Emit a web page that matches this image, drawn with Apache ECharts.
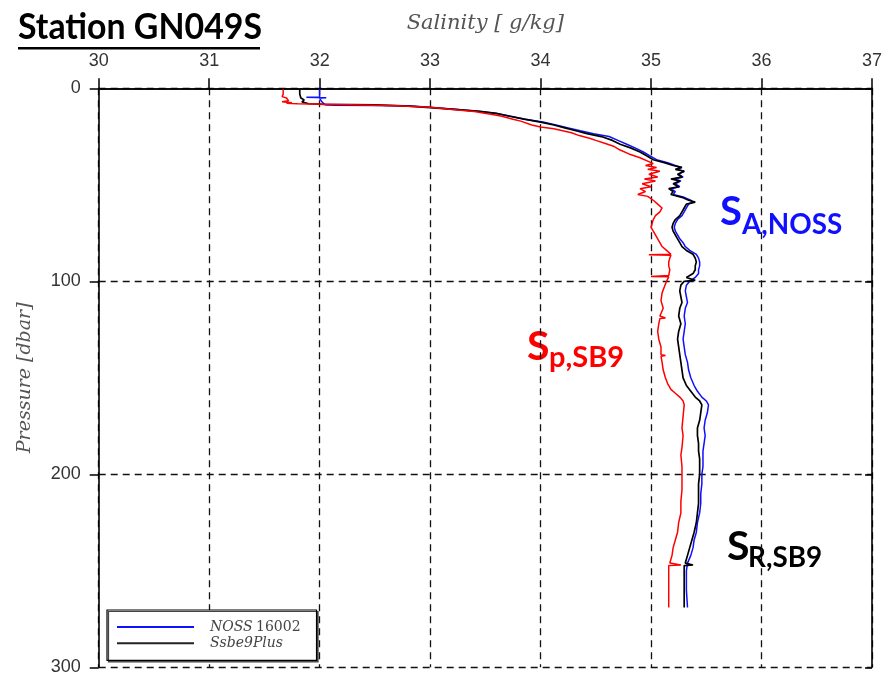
<!DOCTYPE html>
<html>
<head>
<meta charset="utf-8">
<script src="https://cdn.jsdelivr.net/npm/echarts@6/dist/echarts.min.js"></script>
<style>
html,body{margin:0;padding:0;background:#fff;}
#chart{width:885px;height:677px;}
</style>
</head>
<body>
<div id="chart"></div>
<script>
// ---- tick values ----
var salinityTicks = [30, 31, 32, 33, 34, 35, 36, 37];
var pressureTicks = [0, 100, 200, 300];

// ---- Sp,SB9 (red) ----
var redPressure = [0.5,3,4.3,5,6.5,7,7.5,7.8,8,8.3,9,9.8,11,12,13.5,14.5,16,17,19,20,21,22,23,24.5,26,27,28.5,30,32,34,36,38,39,40,41,42,43,44.5,46,47,48,49.5,51,52,53.5,55,56,58,60,62,64,66,68,70,72,74,76,78,80,82,84,86,86.3,86.5,88,90,92,94,97,97.5,97.7,100,103,106,110,114,118,119,119.3,122,126,130,134,138,138.5,138.8,142,146,150,153,156,158,160,162,164,170,176,180,186,190,196,202,208,214,220,225,230,234,238,242,246,247,247.2,250,260,269];
var redSalinity = [31.67,31.67,31.66,31.70,31.72,31.66,31.75,31.70,31.80,32.05,32.70,33.00,33.20,33.40,33.55,33.65,33.75,33.82,33.92,34.00,34.12,34.20,34.28,34.35,34.45,34.50,34.58,34.66,34.72,34.80,34.90,34.98,35.02,34.95,35.05,34.97,35.08,34.98,35.06,34.94,35.04,34.92,35.00,34.90,34.95,34.88,34.97,35.02,35.06,35.10,35.08,35.04,35.02,35.01,35.00,35.02,35.04,35.06,35.08,35.10,35.14,35.18,34.98,35.18,35.17,35.16,35.16,35.17,35.16,35.00,35.16,35.14,35.12,35.10,35.09,35.11,35.08,35.13,35.08,35.07,35.06,35.07,35.09,35.09,35.13,35.09,35.10,35.11,35.13,35.15,35.18,35.22,35.26,35.29,35.30,35.29,35.28,35.29,35.28,35.27,35.28,35.28,35.28,35.27,35.27,35.25,35.24,35.22,35.20,35.19,35.17,35.27,35.16,35.16,35.16,35.16];

// ---- SR,SB9 / Ssbe9Plus (black) ----
var blackPressure = [0.5,3,5,6,7,8,8.3,8.6,9.2,10,11,12,13,14.5,16,17.5,19,20.5,22,23.5,25,27,29,31,33,35,37,38.5,40,41,42,43,44.5,46,47,48,49.5,51,52,53.5,55,56.5,58,59,60,62,64,66,68,70,72,74,76,78,80,82,84,86,88,90,92,94,96,98,99.5,100,102,105,108,111,114,118,122,126,130,134,138,142,146,150,154,157,160,162,164,168,172,176,180,184,188,192,196,200,205,210,215,220,225,230,234,238,242,246,247,247.3,250,260,269];
var blackSalinity = [31.82,31.82,31.83,31.86,31.84,31.90,32.05,32.50,32.80,33.00,33.25,33.45,33.60,33.72,33.85,34.00,34.12,34.22,34.32,34.42,34.55,34.65,34.72,34.82,34.90,34.96,35.02,35.12,35.20,35.28,35.22,35.30,35.24,35.28,35.18,35.26,35.20,35.25,35.16,35.20,35.18,35.28,35.34,35.40,35.32,35.30,35.28,35.26,35.22,35.20,35.19,35.20,35.22,35.24,35.26,35.28,35.32,35.38,35.40,35.41,35.40,35.40,35.38,35.32,35.40,35.30,35.27,35.26,35.27,35.28,35.26,35.25,35.27,35.25,35.24,35.25,35.26,35.27,35.28,35.29,35.32,35.36,35.40,35.44,35.46,35.45,35.44,35.42,35.42,35.43,35.43,35.44,35.44,35.44,35.43,35.43,35.43,35.42,35.41,35.39,35.37,35.35,35.33,35.31,35.38,35.30,35.30,35.30,35.30];

// ---- SA,NOSS / NOSS 16002 (blue) ----
var bluePressure = [0.3,3,4.5,4.7,4.9,5.2,7,8.5,8.8,9.0,9.8,11,12,13,14.5,16,17.5,19,20.5,22,23.5,25,27,29,31,33,35,37,38.5,40,41,42,43,44.5,46,47,48,49.5,51,52,53.5,55,56.5,58,59,60,62,64,66,68,70,72,74,76,78,80,82,84,86,88,90,92,94,96,98,100,102,105,108,111,114,118,122,126,130,134,138,142,146,150,154,157,160,162,164,168,172,176,180,184,188,192,196,200,205,210,215,220,225,230,234,238,242,246,250,260,269];
var blueSalinity = [32.00,32.00,32.00,31.88,32.06,32.00,32.02,32.05,32.15,32.80,33.00,33.25,33.45,33.60,33.73,33.86,34.02,34.14,34.25,34.36,34.48,34.62,34.70,34.78,34.86,34.93,34.99,35.05,35.15,35.22,35.27,35.24,35.30,35.25,35.29,35.20,35.27,35.22,35.26,35.18,35.22,35.20,35.30,35.36,35.38,35.34,35.32,35.30,35.28,35.24,35.22,35.21,35.22,35.24,35.26,35.29,35.31,35.35,35.41,35.43,35.44,35.44,35.43,35.43,35.40,35.35,35.32,35.31,35.32,35.33,35.31,35.30,35.31,35.30,35.29,35.30,35.31,35.33,35.34,35.36,35.39,35.42,35.46,35.50,35.52,35.51,35.49,35.48,35.49,35.48,35.47,35.47,35.47,35.46,35.46,35.45,35.45,35.44,35.42,35.41,35.39,35.38,35.36,35.33,35.32,35.32,35.33];

var legendNames = ['NOSS 16002', 'Ssbe9Plus'];

function zip(s, p) { return s.map(function (v, i) { return [v, p[i]]; }); }

var chart = echarts.init(document.getElementById('chart'), null, {renderer: 'canvas'});

var axisNameStyle = {fontFamily: 'DejaVu Serif', fontStyle: 'italic', color: '#555'};
var dashStyle = {color: '#111', width: 1.3, type: [7, 5]};

var option = {
  animation: false,
  backgroundColor: '#fff',
  grid: {left: 98.7, right: 12.3, top: 88.3, bottom: 9.7, containLabel: false},
  xAxis: [{
    type: 'value', position: 'top', min: salinityTicks[0], max: salinityTicks[salinityTicks.length - 1], interval: 1,
    name: 'Salinity [ g/kg]', nameLocation: 'middle', nameGap: 54,
    nameTextStyle: Object.assign({fontSize: 21}, axisNameStyle),
    axisLine: {show: true, lineStyle: {color: '#000', width: 1.6}},
    axisTick: {show: true, inside: false, length: 10, lineStyle: {color: '#000', width: 1.5}},
    axisLabel: {fontFamily: 'Liberation Sans', fontSize: 18, color: '#333', margin: 18},
    splitLine: {show: true, lineStyle: dashStyle}
  }, {
    type: 'value', position: 'bottom', min: 30, max: 37, interval: 1,
    axisLine: {show: true, lineStyle: {color: '#000', width: 1.6}},
    axisTick: {show: true, inside: true, length: 7, lineStyle: {color: '#000', width: 1.5}},
    axisLabel: {show: false}, splitLine: {show: false}
  }],
  yAxis: [{
    type: 'value', position: 'left', inverse: true, min: pressureTicks[0], max: pressureTicks[pressureTicks.length - 1], interval: 100,
    name: 'Pressure [dbar]', nameLocation: 'middle', nameGap: 64, nameRotate: 90,
    nameTextStyle: Object.assign({fontSize: 19}, axisNameStyle),
    axisLine: {show: true, lineStyle: {color: '#000', width: 1.6}},
    axisTick: {show: true, inside: false, length: 9, lineStyle: {color: '#000', width: 1.5}},
    axisLabel: {fontFamily: 'Liberation Sans', fontSize: 18, color: '#333', margin: 18},
    splitLine: {show: true, lineStyle: dashStyle}
  }, {
    type: 'value', position: 'right', inverse: true, min: 0, max: 300, interval: 100,
    axisLine: {show: true, lineStyle: {color: '#000', width: 1.6}},
    axisTick: {show: true, inside: true, length: 7, lineStyle: {color: '#000', width: 1.5}},
    axisLabel: {show: false}, splitLine: {show: false}
  }],
  legend: {
    data: legendNames,
    orient: 'vertical', left: 107, top: 610,
    padding: [10, 16, 10, 10],
    icon: 'rect',
    itemWidth: 77, itemHeight: 2, itemGap: 2.3,
    backgroundColor: '#fff', borderColor: '#000', borderWidth: 1.2, borderRadius: 0,
    shadowColor: '#444', shadowBlur: 0, shadowOffsetX: 1.5, shadowOffsetY: 1.5,
    formatter: function (name) {
      if (name === 'NOSS 16002') return '{i|NOSS} {n|16002}';
      return '{i|' + name + '}';
    },
    textStyle: {
      padding: [0, 0, 0, 11],
      rich: {
        i: {fontFamily: 'DejaVu Serif', fontStyle: 'italic', fontSize: 14, color: '#444', lineHeight: 14},
        n: {fontFamily: 'DejaVu Serif', fontSize: 14, color: '#444', lineHeight: 14}
      }
    }
  },
  series: [{
    name: legendNames[0], type: 'line', xAxisIndex: 0, yAxisIndex: 0,
    data: zip(blueSalinity, bluePressure), showSymbol: false, symbol: 'none',
    lineStyle: {color: '#1010ff', width: 1.5}, itemStyle: {color: '#1010ff'}, z: 2
  }, {
    name: legendNames[1], type: 'line', xAxisIndex: 0, yAxisIndex: 0,
    data: zip(blackSalinity, blackPressure), showSymbol: false, symbol: 'none',
    lineStyle: {color: '#000', width: 1.7}, itemStyle: {color: '#222'}, z: 3
  }, {
    name: 'Sp,SB9', type: 'line', xAxisIndex: 0, yAxisIndex: 0,
    data: zip(redSalinity, redPressure), showSymbol: false, symbol: 'none',
    lineStyle: {color: '#ff0000', width: 1.5}, itemStyle: {color: '#ff0000'}, z: 4
  }],
  graphic: [
    {type: 'text', x: 18, y: 27.5, scaleX: 0.94, style: {text: 'Station GN049S', font: 'bold 36px Lato', fill: '#000', align: 'left', verticalAlign: 'middle'}},
    {type: 'line', shape: {x1: 18, y1: 48.3, x2: 260, y2: 48.3}, style: {stroke: '#000', lineWidth: 2.5}},

    {type: 'text', x: 720, y: 212.5, style: {text: 'S', font: 'bold 40px Lato', fill: '#1010ff', align: 'left', verticalAlign: 'middle'}},
    {type: 'text', x: 742, y: 224.5, scaleX: 0.96, style: {text: 'A,NOSS', font: 'bold 29px Lato', fill: '#1010ff', align: 'left', verticalAlign: 'middle'}},

    {type: 'text', x: 527, y: 346.5, style: {text: 'S', font: 'bold 41px Lato', fill: '#ff0000', align: 'left', verticalAlign: 'middle'}},
    {type: 'text', x: 549, y: 358, style: {text: 'p,SB9', font: 'bold 29px Lato', fill: '#ff0000', align: 'left', verticalAlign: 'middle'}},

    {type: 'text', x: 727, y: 546.5, style: {text: 'S', font: 'bold 41px Lato', fill: '#000', align: 'left', verticalAlign: 'middle'}},
    {type: 'text', x: 748, y: 558, scaleX: 0.96, style: {text: 'R,SB9', font: 'bold 29px Lato', fill: '#000', align: 'left', verticalAlign: 'middle'}}
  ]
};
chart.setOption(option);
</script>
</body>
</html>
